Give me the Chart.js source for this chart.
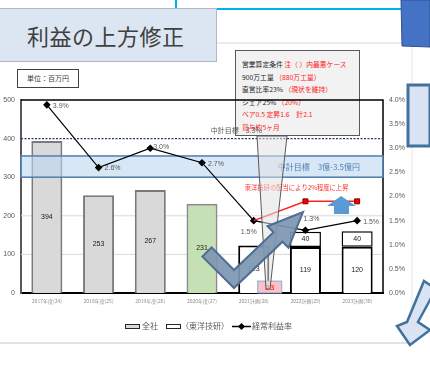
<!DOCTYPE html>
<html>
<head>
<meta charset="utf-8">
<script src="https://cdn.jsdelivr.net/npm/chart.js@4.4.1/dist/chart.umd.min.js"></script>
<style>
  html, body { margin: 0; padding: 0; background: #fff; }
  body { width: 430px; height: 383px; position: relative; overflow: hidden; font-family: 'Noto Sans CJK JP', 'Noto Sans', sans-serif; }
  .abs { position: absolute; }
  #title { left: -1px; top: 8px; width: 218px; height: 54px; background: #dce6f2; border: 1px solid #b0b8c4; box-sizing: border-box;
    font-size: 22px; color: #404040; line-height: 52px; padding-left: 27px; letter-spacing: 0.5px; }
  #unit { left: 17px; top: 69px; width: 62px; height: 19px; border: 1px solid #404040; box-sizing: border-box; font-size: 7px; color: #404040; text-align: center; line-height: 17px; }
  #callout { left: 235px; top: 50px; width: 125px; height: 86px; background: #f2f2f2; border: 1px solid #595959; box-sizing: border-box;
    font-size: 6.8px; line-height: 12.6px; padding: 7px 0 0 6px; color: #262626; white-space: nowrap; }
  #callout .r { color: #ff2020; }
  #chart { position: absolute; left: 0; top: 0; }
  #legend { left: 0; top: 320px; width: 430px; height: 12px; font-size: 8px; color: #595959; }
  #legend span { position: absolute; top: 0; line-height: 12px; }
  .box { position: absolute; top: 4px; width: 15px; height: 5px; border: 1.5px solid #262626; box-sizing: border-box; }
</style>
</head>
<body>
<svg class="abs" style="left:0;top:0" width="430" height="383">
  <line x1="176" y1="0" x2="176" y2="10" stroke="#00b0f0" stroke-width="2"/>
  <line x1="176" y1="9" x2="402" y2="9" stroke="#00b0f0" stroke-width="2"/>
  <line x1="0" y1="43" x2="412" y2="43" stroke="#d9d9d9" stroke-width="1"/>
  <line x1="412" y1="43" x2="412" y2="343" stroke="#e6e6e6" stroke-width="1"/>
  <line x1="0" y1="343" x2="412" y2="343" stroke="#d9d9d9" stroke-width="1.5"/>
</svg>
<div id="title" class="abs">利益の上方修正</div>
<div id="unit" class="abs">単位：百万円</div>
<div id="callout" class="abs">
  営業算定条件 <span class="r">注（ ）内最悪ケース</span><br>
  900万工量 <span class="r">（880万工量）</span><br>
  直営比率23% <span class="r">（現状を維持）</span><br>
  シェア25% <span class="r">（20%）</span><br>
  <span class="r">ベア0.5 定昇1.6　計2.1</span><br>
  <span class="r">賞与約5ヶ月</span>
</div>
<canvas id="chart" width="430" height="383"></canvas>
<svg class="abs" style="left:0;top:0" width="430" height="383">
  <polygon points="257,136 287,136 270,289 266,289" fill="rgba(225,225,225,0.55)" stroke="#595959" stroke-width="1"/>
  <polygon points="211.6,247.4 234,270 273.5,232.3 267.5,226.2 303,212 288.5,247.8 282.5,241.7 234,288 202.4,256.6"
    fill="rgba(125,150,178,0.92)" stroke="#4f6d8f" stroke-width="2" stroke-linejoin="miter"/>
  <polygon points="341,196 356,206 349,206 349,214 334,214 334,206 327,206" fill="#5b9bd5"/>
  <polygon points="401,0 430,0 430,47 402,46" fill="#4472c4" stroke="#2f528f" stroke-width="1"/>
  <polygon points="408,85 430,85 430,146 408,146" fill="#dae3f3" stroke="#41719c" stroke-width="3"/>
  <polygon points="424,281 436,289 418,322 430,330 410,345 397,326 407,322" fill="#dae3f3" stroke="#41719c" stroke-width="2.5" stroke-linejoin="miter"/>
</svg>
<div id="legend" class="abs">
  <div class="box" style="left:125px;background:#d9d9d9"></div><span style="left:142px">全社</span>
  <div class="box" style="left:166px;background:#fff"></div><span style="left:181px">（東洋技研）</span>
  <svg style="position:absolute;left:232px;top:2px" width="20" height="9"><line x1="0" y1="4.5" x2="19" y2="4.5" stroke="#000" stroke-width="1.5"/><polygon points="9.5,1 13,4.5 9.5,8 6,4.5" fill="#000"/></svg>
  <span style="left:252px">経常利益率</span>
</div>
<script>
const categories = ['2017年度(24)', '2018年度(25)', '2019年度(26)', '2020年度(27)', '2021計画(28)', '2022計画(29)', '2023計画(30)'];
const zenshaValues = [394, 253, 267, 231, 123, 119, 120];
const toyoValues = [null, null, null, null, null, 40, 40];
const profitRate = [3.9, 2.6, 3.0, 2.7, 1.5, 1.3, 1.5];
const dividendRate = [null, null, null, null, 1.5, 1.9, 1.9];
const extraValues = [null, null, null, null, 23, null, null];
const targetProfit = 400;
const targetRate = 3.3;
const targetBand = [300, 355];
const noteRate = 2.2;

const barColors = ['#d9d9d9', '#d9d9d9', '#d9d9d9', '#c5e0b4', '#ffffff', '#ffffff', '#ffffff'];
const barBorders = ['#7a7a7a', '#7a7a7a', '#7a7a7a', '#8c8c8c', '#000000', '#000000', '#000000'];
// where each rate label sits relative to its point
const rateLabelPos = ['right', 'right', 'rightUp', 'right', 'belowLeft', 'above', 'right'];

const numFont = "7px 'Liberation Sans Narrow', 'Liberation Sans', sans-serif";
const jpFont = "'Noto Sans CJK JP', sans-serif";

const overlay = {
  id: 'overlay',
  beforeDatasetsDraw(chart) {
    const { ctx, chartArea: a } = chart;
    const y = chart.scales.y;
    ctx.save();
    ctx.strokeStyle = '#d9d9d9';
    ctx.lineWidth = 1;
    [100, 200, 300].forEach((v) => {
      ctx.beginPath();
      ctx.moveTo(a.left, y.getPixelForValue(v));
      ctx.lineTo(a.right, y.getPixelForValue(v));
      ctx.stroke();
    });
    ctx.strokeStyle = '#000';
    ctx.lineWidth = 1.5;
    ctx.beginPath();
    ctx.moveTo(a.left, a.top);
    ctx.lineTo(a.right, a.top);
    ctx.lineTo(a.right, a.bottom);
    ctx.stroke();
    ctx.restore();
  },
  afterDatasetDraw(chart, args) {
    if (args.index !== 0) return;
    const { ctx, chartArea: a } = chart;
    const y = chart.scales.y;
    ctx.save();
    const top = y.getPixelForValue(targetBand[1]);
    const bot = y.getPixelForValue(targetBand[0]);
    ctx.fillStyle = 'rgba(189,215,238,0.6)';
    ctx.fillRect(a.left, top, a.right - a.left, bot - top);
    ctx.strokeStyle = '#4f7fb5';
    ctx.lineWidth = 1.5;
    ctx.strokeRect(a.left, top, a.right - a.left, bot - top);
    ctx.fillStyle = '#4f7fb5';
    ctx.font = '8px ' + jpFont;
    ctx.textAlign = 'right';
    ctx.textBaseline = 'middle';
    ctx.fillText('中計目標　3億-3.5億円', a.right - 23, (top + bot) / 2 + 0.5);

    const ty = y.getPixelForValue(targetProfit);
    ctx.strokeStyle = '#203864';
    ctx.lineWidth = 1.2;
    ctx.setLineDash([2, 1.5]);
    ctx.beginPath();
    ctx.moveTo(a.left, ty);
    ctx.lineTo(a.right, ty);
    ctx.stroke();
    ctx.setLineDash([]);
    ctx.fillStyle = '#595959';
    ctx.font = '7px ' + jpFont;
    ctx.textAlign = 'right';
    ctx.textBaseline = 'alphabetic';
    ctx.fillText('中計目標　' + targetRate.toFixed(1) + '%', 262, ty - 6);
    ctx.restore();
  },
  afterDatasetsDraw(chart) {
    const { ctx } = chart;
    const x = chart.scales.x;
    const y = chart.scales.y;
    const y1 = chart.scales.y1;
    ctx.save();
    // bar values
    ctx.font = numFont;
    ctx.fillStyle = '#1a1a1a';
    ctx.textAlign = 'center';
    ctx.textBaseline = 'middle';
    [0, 1].forEach((di) => {
      chart.getDatasetMeta(di).data.forEach((el, i) => {
        const v = chart.data.datasets[di].data[i];
        if (v == null) return;
        ctx.fillText(String(v), el.x, (el.y + el.base) / 2);
      });
    });
    // extra pink box
    extraValues.forEach((v, i) => {
      if (v == null) return;
      const cx = x.getPixelForValue(i) + 16;
      const t = y.getPixelForValue(v) - 3;
      const b = y.getPixelForValue(0);
      ctx.fillStyle = '#f8c3cb';
      ctx.fillRect(cx - 12, t, 24, b - t);
      ctx.strokeStyle = '#8ea9c8';
      ctx.lineWidth = 1;
      ctx.strokeRect(cx - 12, t, 24, b - t);
      ctx.fillStyle = '#ff0000';
      ctx.font = "8px 'Liberation Sans Narrow', sans-serif";
      ctx.fillText(String(v), cx, (t + b) / 2 + 1);
    });
    // rate labels
    ctx.font = numFont;
    ctx.fillStyle = '#595959';
    chart.getDatasetMeta(2).data.forEach((pt, i) => {
      const txt = profitRate[i].toFixed(1) + '%';
      const pos = rateLabelPos[i];
      if (pos === 'right') { ctx.textAlign = 'left'; ctx.fillText(txt, pt.x + 6, pt.y + 1); }
      if (pos === 'rightUp') { ctx.textAlign = 'left'; ctx.fillText(txt, pt.x + 3, pt.y - 1); }
      if (pos === 'belowLeft') { ctx.textAlign = 'center'; ctx.fillText(txt, pt.x - 5, pt.y + 11); }
      if (pos === 'above') { ctx.textAlign = 'center'; ctx.fillText(txt, pt.x + 6, pt.y - 11); }
    });
    // dividend note
    ctx.fillStyle = '#ff3030';
    ctx.font = '6.3px ' + jpFont;
    ctx.textAlign = 'left';
    ctx.fillText('東洋技研の配当により2%程度に上昇', x.getPixelForValue(4) - 9, y1.getPixelForValue(noteRate) + 1);
    ctx.restore();
  }
};

new Chart(document.getElementById('chart'), {
  type: 'bar',
  data: {
    labels: categories,
    datasets: [
      { label: '全社', data: zenshaValues, backgroundColor: barColors, borderColor: barBorders, borderWidth: 2,
        borderSkipped: 'bottom', stack: 's', order: 2, barPercentage: 0.6, categoryPercentage: 1 },
      { label: '（東洋技研）', data: toyoValues, backgroundColor: '#ffffff', borderColor: '#000000', borderWidth: 1.5,
        borderSkipped: false, stack: 's', order: 2, barPercentage: 0.6, categoryPercentage: 1 },
      { type: 'line', label: '経常利益率', data: profitRate, yAxisID: 'y1', borderColor: '#000', borderWidth: 1.2,
        pointStyle: 'rectRot', pointRadius: 3, pointBackgroundColor: '#000', pointBorderColor: '#000', order: 1 },
      { type: 'line', label: '配当後', data: dividendRate, yAxisID: 'y1', borderColor: '#ff2020', borderWidth: 1.5,
        pointStyle: 'rect', pointRadius: [0, 0, 0, 0, 0, 3.5, 3.5], pointBackgroundColor: '#ff0000', pointBorderColor: '#7f0000',
        pointBorderWidth: 1, order: 0 }
    ]
  },
  options: {
    responsive: false,
    animation: false,
    layout: { padding: { top: 100, left: 0, right: 0, bottom: 0 } },
    plugins: { legend: { display: false }, tooltip: { enabled: false } },
    scales: {
      x: {
        stacked: true,
        grid: { display: false, drawTicks: false },
        border: { color: '#000', width: 2 },
        ticks: { font: { size: 5, family: jpFont }, color: '#8c8c8c', padding: 5, maxRotation: 0, autoSkip: false },
        afterFit: (axis) => { axis.height = 90; }
      },
      y: {
        stacked: true,
        min: 0, max: 500,
        grid: { display: false, drawTicks: false },
        border: { color: '#595959', width: 2 },
        ticks: { stepSize: 100, font: { size: 7, family: "'Liberation Sans Narrow', sans-serif" }, color: '#595959', padding: 6 },
        afterFit: (axis) => { axis.width = 21; }
      },
      y1: {
        position: 'right',
        min: 0, max: 4,
        grid: { display: false, drawTicks: false },
        border: { display: false },
        ticks: { stepSize: 0.5, callback: (v) => v.toFixed(1) + '%', font: { size: 7, family: "'Liberation Sans Narrow', sans-serif" }, color: '#595959', padding: 6 },
        afterFit: (axis) => { axis.width = 47; }
      }
    }
  },
  plugins: [overlay]
});
</script>
</body>
</html>
